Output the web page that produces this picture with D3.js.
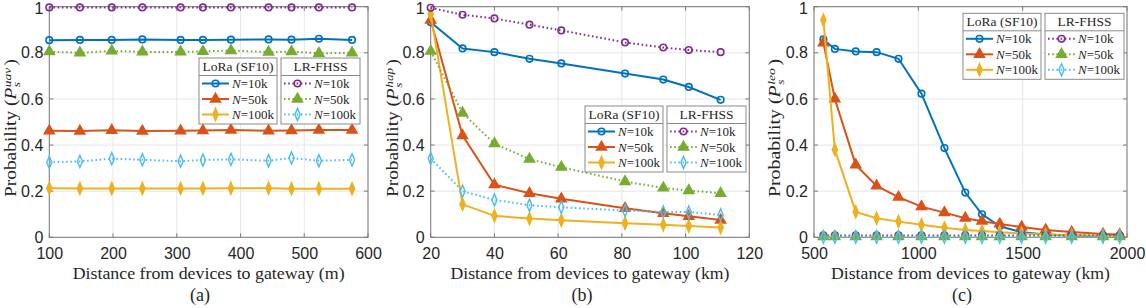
<!DOCTYPE html>
<html>
<head>
<meta charset="utf-8">
<script src="https://cdn.jsdelivr.net/npm/d3@7"></script>
<style>
  body { margin: 0; background: #fff; }
</style>
</head>
<body>
<svg id="chart" width="1146" height="308"></svg>
<script>
"use strict";

// ---- data ----
var yTicks = [0, 0.2, 0.4, 0.6, 0.8, 1];
var legendUsers = ['10k', '50k', '100k'];

// (a) UAV
var uavDist = [100, 148, 198, 246, 306, 341, 385, 444, 480, 523, 575];
var uavXTicks = [100, 200, 300, 400, 500, 600];
var uavLoRa10k = [0.855, 0.856, 0.856, 0.858, 0.856, 0.856, 0.857, 0.858, 0.857, 0.861, 0.856];
var uavLoRa50k = [0.462, 0.461, 0.464, 0.461, 0.462, 0.463, 0.465, 0.462, 0.463, 0.465, 0.465];
var uavLoRa100k = [0.213, 0.212, 0.212, 0.212, 0.212, 0.212, 0.213, 0.213, 0.211, 0.211, 0.211];
var uavLr10k = [0.997, 0.997, 0.997, 0.997, 0.997, 0.997, 0.997, 0.997, 0.997, 0.997, 0.997];
var uavLr50k = [0.805, 0.800, 0.808, 0.804, 0.804, 0.806, 0.810, 0.803, 0.805, 0.798, 0.800];
var uavLr100k = [0.325, 0.329, 0.341, 0.336, 0.330, 0.335, 0.338, 0.332, 0.344, 0.332, 0.336];

// (b) HAP
var hapDist = [20, 30, 40, 51, 61, 81, 93, 101, 111];
var hapXTicks = [20, 40, 60, 80, 100, 120];
var hapLoRa10k = [0.933, 0.819, 0.803, 0.774, 0.754, 0.710, 0.684, 0.652, 0.596];
var hapLoRa50k = [0.942, 0.441, 0.228, 0.191, 0.167, 0.126, 0.104, 0.091, 0.075];
var hapLoRa100k = [0.968, 0.143, 0.093, 0.081, 0.074, 0.061, 0.054, 0.049, 0.042];
var hapLr10k = [0.995, 0.965, 0.949, 0.922, 0.897, 0.845, 0.823, 0.812, 0.803];
var hapLr50k = [0.807, 0.539, 0.406, 0.339, 0.304, 0.242, 0.214, 0.203, 0.191];
var hapLr100k = [0.342, 0.200, 0.162, 0.139, 0.130, 0.116, 0.110, 0.109, 0.097];

// (c) LEO
var leoDist = [545, 600, 700, 800, 905, 1015, 1125, 1225, 1305, 1390, 1495, 1610, 1735, 1885, 1965];
var leoXTicks = [500, 1000, 1500, 2000];
var leoLoRa10k = [0.858, 0.817, 0.806, 0.803, 0.774, 0.623, 0.387, 0.194, 0.100, 0.048, 0.022, 0.012, 0.008, 0.005, 0.004];
var leoLoRa50k = [0.843, 0.600, 0.314, 0.223, 0.174, 0.133, 0.107, 0.083, 0.070, 0.058, 0.045, 0.032, 0.023, 0.014, 0.012];
var leoLoRa100k = [0.942, 0.380, 0.110, 0.083, 0.068, 0.054, 0.041, 0.032, 0.027, 0.022, 0.017, 0.012, 0.009, 0.006, 0.005];
var leoLr10k = [0.008, 0.008, 0.008, 0.008, 0.008, 0.008, 0.008, 0.008, 0.008, 0.008, 0.008, 0.008, 0.008, 0.008, 0.008];
var leoLr50k = [0.003, 0.003, 0.003, 0.003, 0.003, 0.003, 0.003, 0.003, 0.003, 0.003, 0.003, 0.003, 0.003, 0.003, 0.003];
var leoLr100k = [0.001, 0.001, 0.001, 0.001, 0.001, 0.001, 0.001, 0.001, 0.001, 0.001, 0.001, 0.001, 0.001, 0.001, 0.001];

// ---- styles ----
var serif = "'Liberation Serif', 'Times New Roman', serif";
var sans = "'Liberation Sans', Arial, sans-serif";
var styles = [
    { color: '#0072BD', dash: null, sym: d3.symbolCircle, size: 34, fill: 'none' },
    { color: '#D95319', dash: null, sym: d3.symbolTriangle, size: 42, fill: '#D95319' },
    { color: '#EDB120', dash: null, sym: d3.symbolDiamond, size: 32, fill: '#EDB120' },
    { color: '#7E2F8E', dash: '1.6,2.6', sym: d3.symbolCircle, size: 34, fill: 'none' },
    { color: '#77AC30', dash: '1.6,2.6', sym: d3.symbolTriangle, size: 42, fill: '#77AC30' },
    { color: '#4DBEEE', dash: '1.6,2.6', sym: d3.symbolDiamond, size: 32, fill: 'none' }
];

var plotTop = 6.7, plotBottom = 237.3;
var panels = [
    { dist: uavDist, xTicks: uavXTicks, left: 49.3, right: 368, unit: 'm', sup: 'uav',
      labelX: 10, tag: '(a)', tagX: 200, legX: 199, legY: 58,
      series: [uavLoRa10k, uavLoRa50k, uavLoRa100k, uavLr10k, uavLr50k, uavLr100k] },
    { dist: hapDist, xTicks: hapXTicks, left: 430.7, right: 749.3, unit: 'km', sup: 'hap',
      labelX: 392, tag: '(b)', tagX: 582, legX: 585, legY: 106,
      series: [hapLoRa10k, hapLoRa50k, hapLoRa100k, hapLr10k, hapLr50k, hapLr100k] },
    { dist: leoDist, xTicks: leoXTicks, left: 814, right: 1127, unit: 'km', sup: 'leo',
      labelX: 774, tag: '(c)', tagX: 962, legX: 963, legY: 13.3,
      series: [leoLoRa10k, leoLoRa50k, leoLoRa100k, leoLr10k, leoLr50k, leoLr100k] }
];

var svg = d3.select('#chart');

function drawMarker(g, st, cx, cy) {
    g.append('path')
        .attr('d', d3.symbol().type(st.sym).size(st.size)())
        .attr('transform', 'translate(' + cx + ',' + cy + ')' +
              (st.sym === d3.symbolDiamond ? ' scale(0.85,1.15)' : ''))
        .attr('fill', st.fill)
        .attr('stroke', st.color)
        .attr('stroke-width', 1.6);
}

// rotated y label: Probability ( P_s^sup ), stretched to the reference length
function drawYLabel(sup, cx, cy) {
    var g = svg.append('g');
    var inner = g.append('g');
    var t = inner.append('text').attr('font-family', serif).attr('font-size', 16)
        .attr('fill', '#262626');
    t.append('tspan').text('Probability (');
    t.append('tspan').attr('font-style', 'italic').text('P');
    var w = t.node().getComputedTextLength();
    var s1 = inner.append('text').attr('x', w + 0.5).attr('y', -5)
        .attr('font-family', serif).attr('font-size', 11).attr('font-style', 'italic')
        .attr('fill', '#262626').text(sup);
    inner.append('text').attr('x', w + 0.5).attr('y', 4)
        .attr('font-family', serif).attr('font-size', 11).attr('font-style', 'italic')
        .attr('fill', '#262626').text('s');
    var w2 = w + 0.5 + s1.node().getComputedTextLength() + 2;
    var cp = inner.append('text').attr('x', w2).attr('y', 0)
        .attr('font-family', serif).attr('font-size', 16)
        .attr('fill', '#262626').text(')');
    var total = w2 + cp.node().getComputedTextLength();
    var k = 138 / total;
    inner.attr('transform', 'scale(' + k + ',1)');
    g.attr('transform', 'translate(' + (cx + 6) + ',' + (cy + 69) + ') rotate(-90)');
}

function drawLegend(p) {
    var lg = svg.append('g').attr('transform', 'translate(' + p.legX + ',' + p.legY + ')');
    var boxes = [{ x: 0, w: 78, title: 'LoRa (SF10)', idx: [0, 1, 2] },
                 { x: 82, w: 79, title: 'LR-FHSS', idx: [3, 4, 5] }];
    boxes.forEach(function (b) {
        var bg = lg.append('g').attr('transform', 'translate(' + b.x + ',0)');
        bg.append('rect').attr('width', b.w).attr('height', 66)
            .attr('fill', '#fff').attr('stroke', '#8a8a8a').attr('stroke-width', 1);
        bg.append('line').attr('x1', 0).attr('x2', b.w).attr('y1', 17.5).attr('y2', 17.5)
            .attr('stroke', '#8a8a8a').attr('stroke-width', 1);
        bg.append('text').attr('x', b.w / 2).attr('y', 13).attr('text-anchor', 'middle')
            .attr('font-family', serif).attr('font-size', 13.5).attr('fill', '#262626')
            .text(b.title);
        b.idx.forEach(function (si, r) {
            var st = styles[si];
            var ry = 25.5 + r * 15.5;
            bg.append('line').attr('x1', 3).attr('x2', 30).attr('y1', ry).attr('y2', ry)
                .attr('stroke', st.color).attr('stroke-width', 2)
                .attr('stroke-dasharray', st.dash);
            drawMarker(bg, st, 16.5, ry);
            var tx = bg.append('text').attr('x', 33).attr('y', ry + 4.5)
                .attr('font-family', serif).attr('font-size', 13).attr('fill', '#262626');
            tx.append('tspan').attr('font-style', 'italic').text('N');
            tx.append('tspan').text('=' + legendUsers[r]);
        });
    });
}

panels.forEach(function (p) {
    var x = d3.scaleLinear().domain(d3.extent(p.xTicks)).range([p.left, p.right]);
    var y = d3.scaleLinear().domain([0, 1]).range([plotBottom, plotTop]);
    var g = svg.append('g');

    // grid
    g.selectAll('.gx').data(p.xTicks).enter().append('line')
        .attr('x1', function (d) { return x(d); }).attr('x2', function (d) { return x(d); })
        .attr('y1', plotTop).attr('y2', plotBottom)
        .attr('stroke', '#e6e6e6').attr('stroke-width', 1);
    g.selectAll('.gy').data(yTicks).enter().append('line')
        .attr('x1', p.left).attr('x2', p.right)
        .attr('y1', function (d) { return y(d); }).attr('y2', function (d) { return y(d); })
        .attr('stroke', '#e6e6e6').attr('stroke-width', 1);

    // axes with labels
    var xAxis = d3.axisBottom(x).tickValues(p.xTicks).tickSize(0).tickPadding(10)
        .tickFormat(d3.format('d'));
    var gX = g.append('g').attr('transform', 'translate(0,' + plotBottom + ')').call(xAxis);
    var yAxis = d3.axisLeft(y).tickValues(yTicks).tickSize(0).tickPadding(6)
        .tickFormat(function (d) { return d === 0 || d === 1 ? String(d) : d3.format('.1f')(d); });
    var gY = g.append('g').attr('transform', 'translate(' + p.left + ',0)').call(yAxis);
    [gX, gY].forEach(function (ax) {
        ax.select('.domain').remove();
        ax.selectAll('text').attr('font-family', sans).attr('font-size', 16)
            .attr('fill', '#262626');
    });
    // keep the top label inside the page
    gY.selectAll('text').filter(function (d) { return d === 1; }).attr('dy', '0.42em');

    // inward ticks all round
    p.xTicks.forEach(function (d) {
        g.append('line').attr('x1', x(d)).attr('x2', x(d)).attr('y1', plotBottom).attr('y2', plotBottom - 4)
            .attr('stroke', '#7a7a7a');
        g.append('line').attr('x1', x(d)).attr('x2', x(d)).attr('y1', plotTop).attr('y2', plotTop + 4)
            .attr('stroke', '#7a7a7a');
    });
    yTicks.forEach(function (d) {
        g.append('line').attr('x1', p.left).attr('x2', p.left + 4).attr('y1', y(d)).attr('y2', y(d))
            .attr('stroke', '#7a7a7a');
        g.append('line').attr('x1', p.right).attr('x2', p.right - 4).attr('y1', y(d)).attr('y2', y(d))
            .attr('stroke', '#7a7a7a');
    });
    g.append('rect').attr('x', p.left).attr('y', plotTop)
        .attr('width', p.right - p.left).attr('height', plotBottom - plotTop)
        .attr('fill', 'none').attr('stroke', '#7a7a7a').attr('stroke-width', 1);

    // series
    var line = d3.line()
        .x(function (d) { return x(d[0]); })
        .y(function (d) { return y(d[1]); });
    p.series.forEach(function (vals, si) {
        var st = styles[si];
        var pts = p.dist.map(function (d, i) { return [d, vals[i]]; });
        g.append('path').datum(pts).attr('d', line)
            .attr('fill', 'none').attr('stroke', st.color).attr('stroke-width', 2)
            .attr('stroke-dasharray', st.dash);
        pts.forEach(function (pt) { drawMarker(g, st, x(pt[0]), y(pt[1])); });
    });

    // titles
    g.append('text').attr('x', (p.left + p.right) / 2).attr('y', 279)
        .attr('text-anchor', 'middle').attr('font-family', serif).attr('font-size', 17)
        .attr('fill', '#262626')
        .attr('textLength', p.unit === 'm' ? 272 : 279).attr('lengthAdjust', 'spacingAndGlyphs')
        .text('Distance from devices to gateway (' + p.unit + ')');
    g.append('text').attr('x', p.tagX).attr('y', 301)
        .attr('text-anchor', 'middle').attr('font-family', serif).attr('font-size', 18)
        .attr('fill', '#262626').text(p.tag);

    drawYLabel(p.sup, p.labelX, 128);
    drawLegend(p);
});
</script>
</body>
</html>
